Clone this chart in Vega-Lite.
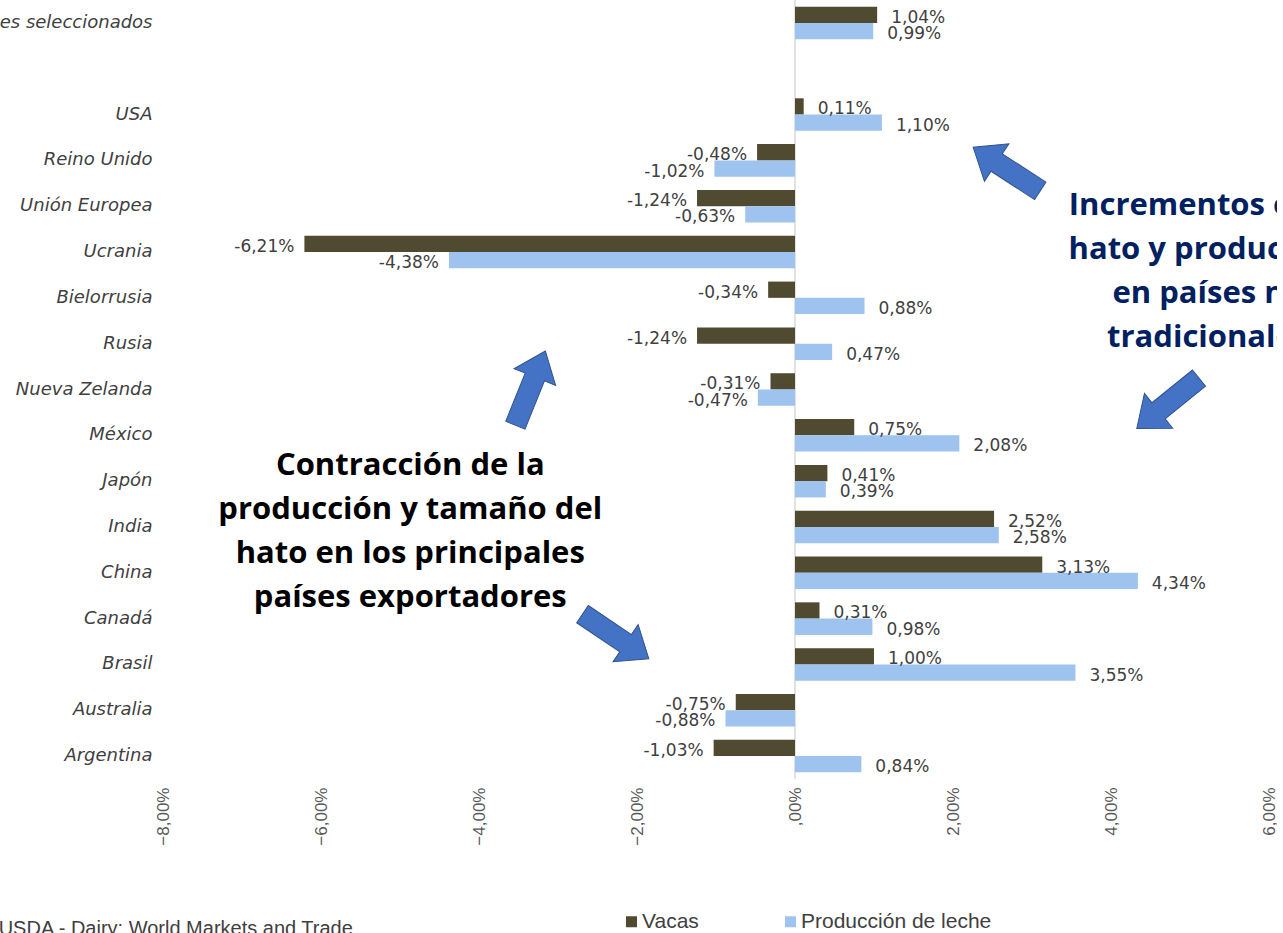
{
  "$schema": "https://vega.github.io/schema/vega-lite/v6.json",
  "autosize": {"type": "none"},
  "width": 1106,
  "height": 779,
  "padding": {"left": 163, "top": 0, "right": 8, "bottom": 154},
  "background": "white",
  "config": {
    "view": {"stroke": null},
    "axis": {"grid": false, "ticks": false, "domain": false},
    "legend": {
      "orient": "none", "legendX": 458, "legendY": 911, "direction": "horizontal",
      "symbolType": "square", "symbolSize": 121, "symbolStrokeWidth": 0,
      "labelFontSize": 21, "labelFont": "Liberation Sans", "labelColor": "#404040", "labelLimit": 0,
      "columnPadding": 81, "labelOffset": 0, "padding": 0
    }
  },
  "datasets": {
    "paises": [
      {"pais": "es seleccionados", "serie": "Vacas", "valor": 1.04, "etiqueta": "1,04%"},
      {"pais": "es seleccionados", "serie": "Producción de leche", "valor": 0.99, "etiqueta": "0,99%"},
      {"pais": "USA", "serie": "Vacas", "valor": 0.11, "etiqueta": "0,11%"},
      {"pais": "USA", "serie": "Producción de leche", "valor": 1.10, "etiqueta": "1,10%"},
      {"pais": "Reino Unido", "serie": "Vacas", "valor": -0.48, "etiqueta": "-0,48%"},
      {"pais": "Reino Unido", "serie": "Producción de leche", "valor": -1.02, "etiqueta": "-1,02%"},
      {"pais": "Unión Europea", "serie": "Vacas", "valor": -1.24, "etiqueta": "-1,24%"},
      {"pais": "Unión Europea", "serie": "Producción de leche", "valor": -0.63, "etiqueta": "-0,63%"},
      {"pais": "Ucrania", "serie": "Vacas", "valor": -6.21, "etiqueta": "-6,21%"},
      {"pais": "Ucrania", "serie": "Producción de leche", "valor": -4.38, "etiqueta": "-4,38%"},
      {"pais": "Bielorrusia", "serie": "Vacas", "valor": -0.34, "etiqueta": "-0,34%"},
      {"pais": "Bielorrusia", "serie": "Producción de leche", "valor": 0.88, "etiqueta": "0,88%"},
      {"pais": "Rusia", "serie": "Vacas", "valor": -1.24, "etiqueta": "-1,24%"},
      {"pais": "Rusia", "serie": "Producción de leche", "valor": 0.47, "etiqueta": "0,47%"},
      {"pais": "Nueva Zelanda", "serie": "Vacas", "valor": -0.31, "etiqueta": "-0,31%"},
      {"pais": "Nueva Zelanda", "serie": "Producción de leche", "valor": -0.47, "etiqueta": "-0,47%"},
      {"pais": "México", "serie": "Vacas", "valor": 0.75, "etiqueta": "0,75%"},
      {"pais": "México", "serie": "Producción de leche", "valor": 2.08, "etiqueta": "2,08%"},
      {"pais": "Japón", "serie": "Vacas", "valor": 0.41, "etiqueta": "0,41%"},
      {"pais": "Japón", "serie": "Producción de leche", "valor": 0.39, "etiqueta": "0,39%"},
      {"pais": "India", "serie": "Vacas", "valor": 2.52, "etiqueta": "2,52%"},
      {"pais": "India", "serie": "Producción de leche", "valor": 2.58, "etiqueta": "2,58%"},
      {"pais": "China", "serie": "Vacas", "valor": 3.13, "etiqueta": "3,13%"},
      {"pais": "China", "serie": "Producción de leche", "valor": 4.34, "etiqueta": "4,34%"},
      {"pais": "Canadá", "serie": "Vacas", "valor": 0.31, "etiqueta": "0,31%"},
      {"pais": "Canadá", "serie": "Producción de leche", "valor": 0.98, "etiqueta": "0,98%"},
      {"pais": "Brasil", "serie": "Vacas", "valor": 1.00, "etiqueta": "1,00%"},
      {"pais": "Brasil", "serie": "Producción de leche", "valor": 3.55, "etiqueta": "3,55%"},
      {"pais": "Australia", "serie": "Vacas", "valor": -0.75, "etiqueta": "-0,75%"},
      {"pais": "Australia", "serie": "Producción de leche", "valor": -0.88, "etiqueta": "-0,88%"},
      {"pais": "Argentina", "serie": "Vacas", "valor": -1.03, "etiqueta": "-1,03%"},
      {"pais": "Argentina", "serie": "Producción de leche", "valor": 0.84, "etiqueta": "0,84%"}
    ],
    "textos": [
      {"grupo": "contraccion", "x": -4.87, "fila": 10.17, "texto": ["Contracción de la", "producción y tamaño del", "hato en los principales", "países exportadores"]},
      {"grupo": "incremento", "x": 5.23, "fila": 4.50, "texto": ["Incrementos en el", "hato y producción", "en países no", "tradicionales"]}
    ],
    "flechas": [
      {"x": 2.68, "fila": 3.69, "angulo": 213},
      {"x": 4.72, "fila": 8.80, "angulo": 141},
      {"x": -3.35, "fila": 8.47, "angulo": 292},
      {"x": -2.27, "fila": 13.89, "angulo": 34}
    ],
    "fuente": [
      {"x": -10.08, "fila": 20.41, "texto": "USDA - Dairy: World Markets and Trade"}
    ],
    "cero": [{"valor": 0}]
  },
  "layer": [
    {
      "data": {"name": "cero"},
      "mark": {"type": "rule", "color": "#D9D9D9", "strokeWidth": 1.5},
      "encoding": {"x": {"field": "valor", "type": "quantitative", "scale": {"domain": [-8, 6], "nice": false, "zero": false}}}
    },
    {
      "data": {"name": "paises"},
      "encoding": {
        "y": {
          "field": "pais", "type": "nominal",
          "scale": {"domain": ["es seleccionados", "", "USA", "Reino Unido", "Unión Europea", "Ucrania", "Bielorrusia", "Rusia", "Nueva Zelanda", "México", "Japón", "India", "China", "Canadá", "Brasil", "Australia", "Argentina"], "paddingInner": 0.29, "paddingOuter": 0.145},
          "axis": {"title": null, "labelFont": "DejaVu Sans", "labelFontStyle": "italic", "labelFontSize": 18, "labelColor": "#404040", "labelPadding": 11, "labelLimit": 300}
        },
        "yOffset": {"field": "serie", "type": "nominal", "scale": {"domain": ["Vacas", "Producción de leche"], "paddingInner": 0}},
        "x": {
          "field": "valor", "type": "quantitative",
          "scale": {"domain": [-8, 6], "nice": false, "zero": false},
          "axis": {"title": null, "values": [-8, -6, -4, -2, 0, 2, 4, 6], "labelAngle": -90, "labelFont": "Liberation Sans", "labelFontSize": 17, "labelColor": "#595959", "labelPadding": 8,
            "labelExpr": "datum.value == 0 ? ',00%' : replace(format(datum.value, '.2f'), '.', ',') + '%'"}
        }
      },
      "layer": [
        {
          "mark": {"type": "bar"},
          "encoding": {
            "color": {"field": "serie", "type": "nominal", "title": null,
              "scale": {"domain": ["Vacas", "Producción de leche"], "range": ["#4F4A30", "#9DC3EE"]}}
          }
        },
        {
          "transform": [{"filter": "datum.valor >= 0"}],
          "mark": {"type": "text", "align": "left", "baseline": "middle", "dx": 14, "dy": 3, "font": "DejaVu Sans", "fontSize": 17, "color": "#404040"},
          "encoding": {"text": {"field": "etiqueta"}}
        },
        {
          "transform": [{"filter": "datum.valor < 0"}],
          "mark": {"type": "text", "align": "right", "baseline": "middle", "dx": -10, "dy": 3, "font": "DejaVu Sans", "fontSize": 17, "color": "#404040"},
          "encoding": {"text": {"field": "etiqueta"}}
        }
      ]
    },
    {
      "layer": [
        {
          "data": {"name": "flechas"},
          "mark": {"type": "point", "filled": true, "shape": "M-1,-0.26 L0.3,-0.26 L0.3,-0.56 L1,0 L0.3,0.56 L0.3,0.26 L-1,0.26 Z", "size": 6400, "fill": "#4472C4", "stroke": "#2F528F", "strokeWidth": 1, "opacity": 1},
          "encoding": {
            "x": {"field": "x", "type": "quantitative", "scale": {"domain": [-8, 6], "nice": false, "zero": false}},
            "y": {"field": "fila", "type": "quantitative", "scale": {"domain": [0, 17], "reverse": true, "nice": false, "zero": false}, "axis": null},
            "angle": {"field": "angulo", "type": "quantitative", "scale": null}
          }
        },
        {
          "data": {"name": "textos"},
          "mark": {"type": "text", "align": "center", "baseline": "middle", "font": "Open Sans", "fontWeight": "bold", "fontSize": 31, "lineHeight": 44},
          "encoding": {
            "x": {"field": "x", "type": "quantitative", "scale": {"domain": [-8, 6], "nice": false, "zero": false}},
            "y": {"field": "fila", "type": "quantitative", "scale": {"domain": [0, 17], "reverse": true, "nice": false, "zero": false}, "axis": null},
            "text": {"field": "texto"},
            "color": {"condition": {"test": "datum.grupo == 'incremento'", "value": "#002060"}, "value": "#000000"}
          }
        },
        {
          "data": {"name": "fuente"},
          "mark": {"type": "text", "align": "left", "baseline": "alphabetic", "font": "Liberation Sans", "fontSize": 20, "color": "#404040"},
          "encoding": {
            "x": {"field": "x", "type": "quantitative", "scale": {"domain": [-8, 6], "nice": false, "zero": false}},
            "y": {"field": "fila", "type": "quantitative", "scale": {"domain": [0, 17], "reverse": true, "nice": false, "zero": false}, "axis": null},
            "text": {"field": "texto"}
          }
        }
      ]
    }
  ],
  "resolve": {"scale": {"y": "independent"}}
}
